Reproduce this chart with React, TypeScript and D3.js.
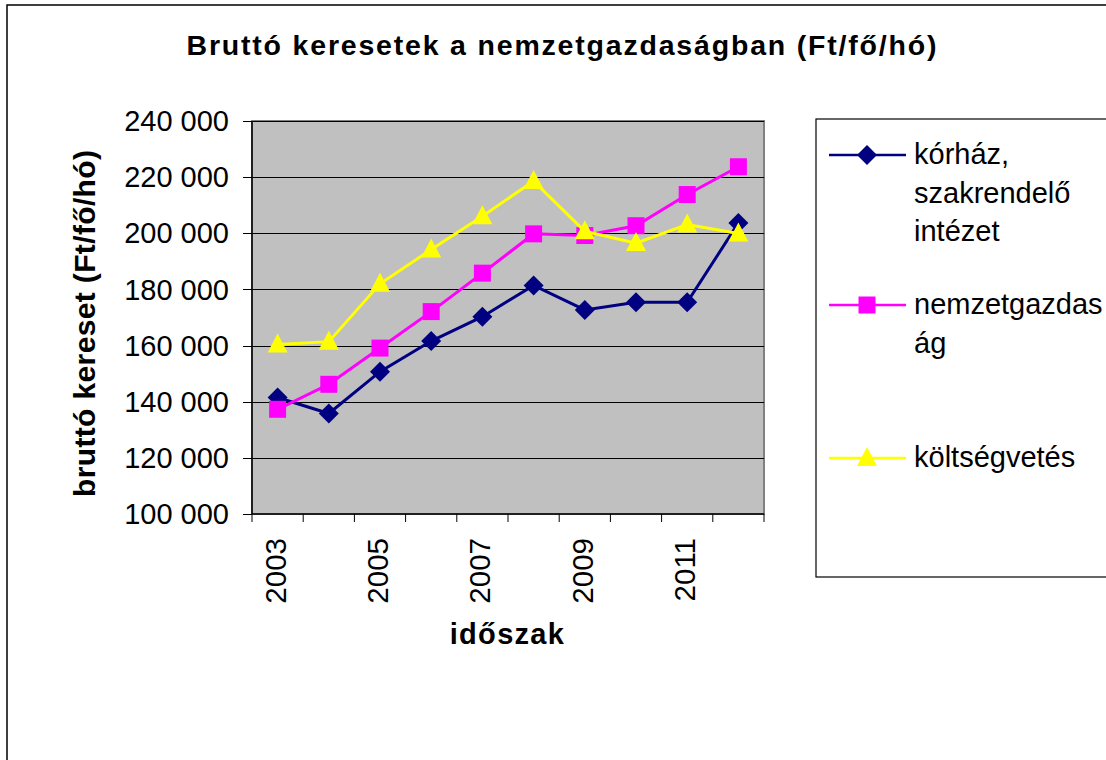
import * as d3 from "d3";

const years = ["2003", "2004", "2005", "2006", "2007", "2008", "2009", "2010", "2011", "2012"];
const korhaz = [141500, 135800, 150700, 161600, 170300, 181400, 172700, 175400, 175400, 203700];
const nemzetgazdasag = [137300, 146200, 159100, 172100, 185800, 199800, 199200, 202700, 213800, 223700];
const koltsegvetes = [160400, 161400, 182000, 194200, 206100, 218600, 200700, 196500, 203100, 199900];
const yTicks = [100000, 120000, 140000, 160000, 180000, 200000, 220000, 240000];
const xLabels = ["2003", "2005", "2007", "2009", "2011"];

const FONT = "'Liberation Sans', Arial, sans-serif";

const series = [
  { name: ["kórház,", "szakrendelő", "intézet"], values: korhaz, color: "#000080", marker: "diamond", legendY: 155 },
  { name: ["nemzetgazdas", "ág"], values: nemzetgazdasag, color: "#FF00FF", marker: "square", legendY: 305 },
  { name: ["költségvetés"], values: koltsegvetes, color: "#FFFF00", marker: "triangle", legendY: 458 },
];

function markerPath(kind: string, cx: number, cy: number) {
  if (kind === "diamond") {
    const r = 10;
    return `M${cx},${cy - r}L${cx + r},${cy}L${cx},${cy + r}L${cx - r},${cy}Z`;
  }
  if (kind === "square") {
    const h = 8.5;
    return `M${cx - h},${cy - h}H${cx + h}V${cy + h}H${cx - h}Z`;
  }
  const w = 10;
  return `M${cx},${cy - 11}L${cx + w},${cy + 8}L${cx - w},${cy + 8}Z`;
}

export default function App() {
  const left = 252;
  const right = 764;
  const top = 121;
  const bottom = 514;

  const x = d3.scaleBand<string>().domain(years).range([left, right]).padding(0);
  const y = d3.scaleLinear().domain([100000, 240000]).range([bottom, top]);
  const cx = (yr: string) => (x(yr) ?? 0) + x.bandwidth() / 2;

  const line = d3
    .line<number>()
    .x((_, i) => cx(years[i]))
    .y((d) => y(d));

  const tickXs = years.map((yr) => x(yr) ?? 0).concat([right]);

  return (
    <svg
      width={1106}
      height={760}
      style={{ position: "absolute", left: 0, top: 0, background: "#fff" }}
      fontFamily={FONT}
    >
      {/* outer chart frame, runs past the window */}
      <rect x={7} y={5} width={1200} height={800} fill="#fff" stroke="#000" strokeWidth={1.5} />

      <text
        x={561.5}
        y={55}
        textAnchor="middle"
        fontSize={28.5}
        fontWeight="bold"
        textLength={750}
        lengthAdjust="spacing"
      >
        Bruttó keresetek a nemzetgazdaságban (Ft/fő/hó)
      </text>

      {/* plot area */}
      <rect x={left} y={top} width={right - left} height={bottom - top} fill="#C0C0C0" stroke="#808080" strokeWidth={2} />

      {yTicks.slice(1).map((t) => (
        <line key={t} x1={left} x2={right} y1={Math.round(y(t)) + 0.5} y2={Math.round(y(t)) + 0.5} stroke="#000" strokeWidth={1} />
      ))}

      {/* axes */}
      <line x1={left} x2={left} y1={top} y2={bottom} stroke="#000" strokeWidth={1.5} />
      <line x1={left} x2={right} y1={bottom} y2={bottom} stroke="#000" strokeWidth={1.5} />

      {yTicks.map((t) => (
        <g key={t}>
          <line x1={243} x2={left} y1={Math.round(y(t)) + 0.5} y2={Math.round(y(t)) + 0.5} stroke="#000" strokeWidth={1} />
          <text x={229} y={y(t)} dy="0.35em" textAnchor="end" fontSize={29}>
            {d3.format(",")(t).replace(/,/g, " ")}
          </text>
        </g>
      ))}

      {tickXs.map((tx, i) => (
        <line key={i} x1={tx} x2={tx} y1={bottom} y2={522} stroke="#000" strokeWidth={1} />
      ))}

      {xLabels.map((lab) => (
        <text
          key={lab}
          transform={`translate(${cx(lab) + 8},538) rotate(-90)`}
          textAnchor="end"
          fontSize={29.5}
        >
          {lab}
        </text>
      ))}

      <text
        transform="translate(95,323.5) rotate(-90)"
        textAnchor="middle"
        fontSize={30}
        fontWeight="bold"
        textLength={347}
        lengthAdjust="spacing"
      >
        bruttó kereset (Ft/fő/hó)
      </text>

      <text x={507.5} y={644} textAnchor="middle" fontSize={29} fontWeight="bold" letterSpacing={1.3}>
        időszak
      </text>

      {/* series */}
      {series.map((s) => (
        <g key={s.color}>
          <path d={line(s.values) ?? ""} fill="none" stroke={s.color} strokeWidth={3} />
          {s.values.map((v, i) => (
            <path key={i} d={markerPath(s.marker, cx(years[i]), y(v))} fill={s.color} />
          ))}
        </g>
      ))}

      {/* legend */}
      <rect x={816} y={119} width={400} height={458} fill="#fff" stroke="#000" strokeWidth={1.2} />
      {series.map((s) => (
        <g key={"lg" + s.color}>
          <line x1={829} x2={906} y1={s.legendY} y2={s.legendY} stroke={s.color} strokeWidth={2.5} />
          <path d={markerPath(s.marker, 867, s.legendY)} fill={s.color} />
          {s.name.map((ln, j) => (
            <text key={j} x={914} y={s.legendY + 9 + j * 38.5} fontSize={29}>
              {ln}
            </text>
          ))}
        </g>
      ))}
    </svg>
  );
}
